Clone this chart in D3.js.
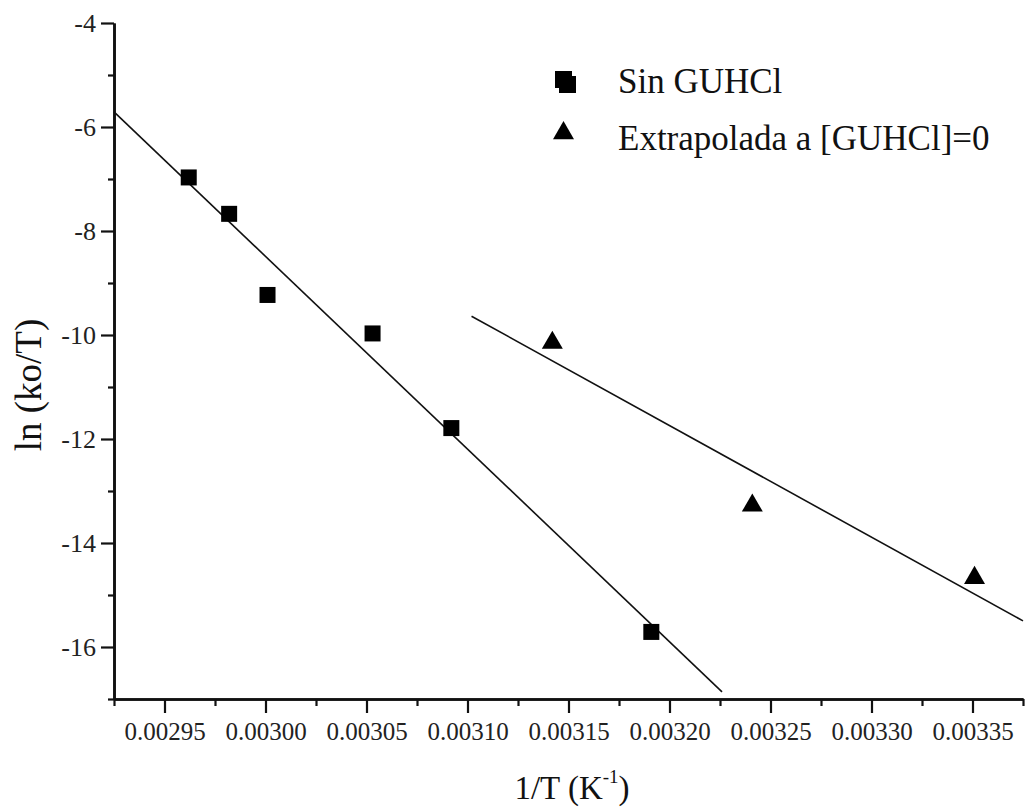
<!DOCTYPE html>
<html>
<head>
<meta charset="utf-8">
<script src="https://cdn.jsdelivr.net/npm/d3@7"></script>
<style>
  html, body { margin: 0; padding: 0; background: #fff; }
  svg { display: block; }
  text { font-family: "Liberation Serif", "Times New Roman", serif; fill: #111; }
</style>
</head>
<body>
<svg id="chart" width="1028" height="807"></svg>
<script>
// Arrhenius-type plot: ln(ko/T) versus 1/T
const invTempSin = [0.002962, 0.002982, 0.003001, 0.003053, 0.003092, 0.003191];
const lnKoTSin   = [-6.97, -7.67, -9.23, -9.97, -11.79, -15.71];

const invTempExt = [0.003142, 0.003241, 0.003351];
const lnKoTExt   = [-10.15, -13.28, -14.67];

// x-ranges over which each least-squares line is drawn
const fitRangeSin = [0.002925, 0.003226];
const fitRangeExt = [0.003102, 0.003375];

const xMajorTicks = [0.00295, 0.00300, 0.00305, 0.00310, 0.00315, 0.00320, 0.00325, 0.00330, 0.00335];
const xMinorTicks = [0.002925, 0.002975, 0.003025, 0.003075, 0.003125, 0.003175, 0.003225, 0.003275, 0.003325, 0.003375];
const yMajorTicks = [-16, -14, -12, -10, -8, -6, -4];
const yMinorTicks = [-17, -15, -13, -11, -9, -7, -5];

const legendLabels = ["Sin GUHCl", "Extrapolada a [GUHCl]=0"];

const serif = '"Liberation Serif", "Times New Roman", serif';
const svg = d3.select("#chart");

const x = d3.scaleLinear().domain([0.002925, 0.003375]).range([114, 1023]);
const y = d3.scaleLinear().domain([-17, -4]).range([699, 23]);

const fmtX = d => d.toFixed(5);
const fmtY = d => String(d).replace("\u2212", "-");

// least-squares line through a series
function fit(xs, ys) {
  const mx = d3.mean(xs), my = d3.mean(ys);
  let sxy = 0, sxx = 0;
  xs.forEach((v, i) => { sxy += (v - mx) * (ys[i] - my); sxx += (v - mx) * (v - mx); });
  const b = sxy / sxx;
  return v => my + b * (v - mx);
}

// ---- axes ----
const gx = svg.append("g").attr("transform", `translate(0,${y(-17)})`);
gx.call(d3.axisBottom(x).tickValues(xMajorTicks).tickFormat(fmtX).tickSize(14).tickSizeOuter(0).tickPadding(9));
const gxm = svg.append("g").attr("transform", `translate(0,${y(-17)})`);
gxm.call(d3.axisBottom(x).tickValues(xMinorTicks).tickFormat("").tickSize(7).tickSizeOuter(0));

const gy = svg.append("g").attr("transform", `translate(${x(0.002925)},0)`);
gy.call(d3.axisLeft(y).tickValues(yMajorTicks).tickFormat(fmtY).tickSize(13).tickSizeOuter(0).tickPadding(5));
const gym = svg.append("g").attr("transform", `translate(${x(0.002925)},0)`);
gym.call(d3.axisLeft(y).tickValues(yMinorTicks).tickFormat("").tickSize(6).tickSizeOuter(0));

[gx, gxm, gy, gym].forEach(g => {
  g.attr("font-family", null);
  g.selectAll(".domain").attr("stroke", "#111").attr("stroke-width", 2.6);
  g.selectAll(".tick line").attr("stroke", "#111").attr("stroke-width", 2.2);
});
gx.selectAll(".tick text").style("font-family", serif).style("font-size", "25px").style("fill", "#222");
gy.selectAll(".tick text").style("font-family", serif).style("font-size", "26px").style("fill", "#222");

// ---- fitted lines ----
const lineGen = d3.line().x(d => x(d[0])).y(d => y(d[1]));
const fSin = fit(invTempSin, lnKoTSin);
const fExt = fit(invTempExt, lnKoTExt);
svg.append("path")
  .attr("d", lineGen(fitRangeSin.map(v => [v, fSin(v)])))
  .attr("fill", "none").attr("stroke", "#111").attr("stroke-width", 1.6);
svg.append("path")
  .attr("d", lineGen(fitRangeExt.map(v => [v, fExt(v)])))
  .attr("fill", "none").attr("stroke", "#111").attr("stroke-width", 1.6);

// ---- markers ----
const sq = 16;
svg.append("g").selectAll("rect")
  .data(invTempSin.map((v, i) => [v, lnKoTSin[i]]))
  .join("rect")
  .attr("x", d => x(d[0]) - sq / 2)
  .attr("y", d => y(d[1]) - sq / 2)
  .attr("width", sq).attr("height", sq)
  .attr("fill", "#000");

// equilateral triangle centred on its centroid
const triW = 21, triH = triW * Math.sqrt(3) / 2;
const triPath = `M0,${-2 * triH / 3}L${triW / 2},${triH / 3}L${-triW / 2},${triH / 3}Z`;
svg.append("g").selectAll("path")
  .data(invTempExt.map((v, i) => [v, lnKoTExt[i]]))
  .join("path")
  .attr("d", triPath)
  .attr("transform", d => `translate(${x(d[0])},${y(d[1])})`)
  .attr("fill", "#000");

// ---- legend ----
const lg = svg.append("g");
lg.append("rect").attr("x", 555).attr("y", 71).attr("width", 17).attr("height", 17).attr("fill", "#000");
lg.append("rect").attr("x", 559).attr("y", 76).attr("width", 17).attr("height", 17).attr("fill", "#000");
lg.append("text").attr("x", 618).attr("y", 93).style("font-size", "35px").text(legendLabels[0]);
lg.append("path").attr("d", triPath).attr("transform", `translate(563.5,${121 + 2 * triH / 3})`).attr("fill", "#000");
lg.append("text").attr("x", 618).attr("y", 150).style("font-size", "35px").text(legendLabels[1]);

// ---- axis titles ----
const xt = svg.append("text")
  .attr("x", 572).attr("y", 799)
  .attr("text-anchor", "middle")
  .style("font-size", "33px");
xt.append("tspan").text("1/T (K");
xt.append("tspan").style("font-size", "19px").attr("dy", -16).text("-1");
xt.append("tspan").attr("dy", 16).text(")");

svg.append("text")
  .attr("transform", "translate(41,385) rotate(-90)")
  .attr("text-anchor", "middle")
  .style("font-size", "37px")
  .text("ln (ko/T)");
</script>
</body>
</html>
